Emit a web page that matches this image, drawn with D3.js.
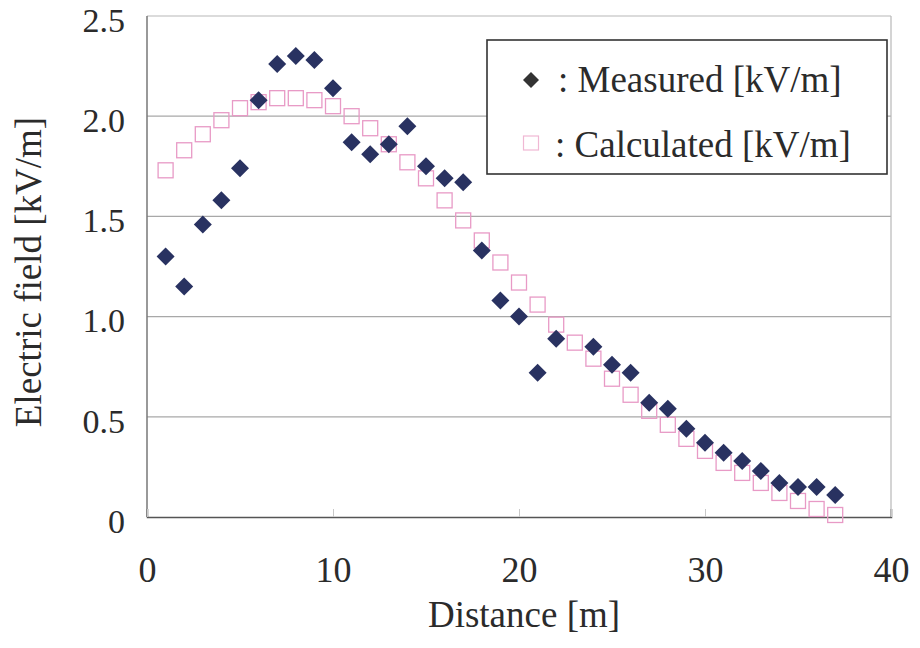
<!DOCTYPE html>
<html>
<head>
<meta charset="utf-8">
<script src="https://cdn.jsdelivr.net/npm/d3@7"></script>
<style>
  html, body { margin: 0; padding: 0; background: #fff; }
  svg { display: block; }
  svg text { font-family: "Liberation Serif", "Times New Roman", Tinos, "DejaVu Serif", serif !important; fill: #2b2b2b; }
</style>
</head>
<body>
<svg id="chart" width="920" height="648" font-family="Liberation Serif, Times New Roman, serif"></svg>
<script>
// ---- data ----
const distances = [1,2,3,4,5,6,7,8,9,10,11,12,13,14,15,16,17,18,19,20,21,22,23,24,25,26,27,28,29,30,31,32,33,34,35,36,37];
const measured = [1.30,1.15,1.46,1.58,1.74,2.08,2.26,2.30,2.28,2.14,1.87,1.81,1.86,1.95,1.75,1.69,1.67,1.33,1.08,1.00,0.72,0.89,null,0.85,0.76,0.72,0.57,0.54,0.44,0.37,0.32,0.28,0.23,0.17,0.15,0.15,0.11];
const calculated = [1.73,1.83,1.91,1.98,2.04,2.07,2.09,2.09,2.08,2.05,2.00,1.94,1.86,1.77,1.69,1.58,1.48,1.38,1.27,1.17,1.06,0.96,0.87,0.79,0.69,0.61,0.53,0.46,0.39,0.33,0.27,0.22,0.17,0.12,0.08,0.04,0.01];
const xTicks = [0,10,20,30,40];
const yTicks = [0,0.5,1.0,1.5,2.0,2.5];
const yTickLabels = ["0","0.5","1.0","1.5","2.0","2.5"];
const legendLabels = [": Measured [kV/m]", ": Calculated [kV/m]"];
const xTitle = "Distance [m]";
const yTitle = "Electric field [kV/m]";

// ---- layout ----
const L = 147, R = 891, T = 16, B = 517;
const FONT = "'Liberation Serif', 'Times New Roman', serif";
const svg = d3.select("#chart");
const x = d3.scaleLinear().domain([0,40]).range([L,R]);
const y = d3.scaleLinear().domain([0,2.5]).range([B,T]);

// gridlines
svg.append("g").selectAll("line").data(yTicks.filter(v => v > 0 && v < 2.5)).join("line")
  .attr("x1", L).attr("x2", R).attr("y1", d => y(d)).attr("y2", d => y(d))
  .attr("stroke", "#a8a8a8").attr("stroke-width", 1.2);

// frame: top & right light, left & bottom darker
svg.append("line").attr("x1", L).attr("x2", R).attr("y1", T).attr("y2", T).attr("stroke", "#b8b8b8").attr("stroke-width", 1.2);
svg.append("line").attr("x1", R).attr("x2", R).attr("y1", T).attr("y2", B).attr("stroke", "#b8b8b8").attr("stroke-width", 1.2);
svg.append("line").attr("x1", L).attr("x2", L).attr("y1", T).attr("y2", B).attr("stroke", "#777").attr("stroke-width", 1.5);

// x axis
const xAxis = svg.append("g").attr("transform", `translate(0,${B})`)
  .call(d3.axisBottom(x).tickValues(xTicks).tickSize(-8).tickFormat(d3.format("d")));
xAxis.attr("font-family", null).attr("font-size", null);
xAxis.select(".domain").attr("stroke", "#555").attr("stroke-width", 1.5);
xAxis.selectAll(".tick line").attr("stroke", "#c8c8c8").attr("stroke-width", 1);
xAxis.selectAll(".tick text").attr("y", 65).attr("dy", null)
  .style("font-size", "36px").style("font-family", FONT).attr("fill", "#2b2b2b");

// y axis
const yAxis = svg.append("g").attr("transform", `translate(${L},0)`)
  .call(d3.axisLeft(y).tickValues(yTicks).tickSize(0).tickFormat((d,i) => yTickLabels[i]));
yAxis.attr("font-family", null).attr("font-size", null);
yAxis.select(".domain").remove();
yAxis.selectAll(".tick text").attr("x", -22).attr("dy", "0.45em")
  .style("font-size", "34px").style("font-family", FONT).attr("fill", "#2b2b2b");

// axis titles
svg.append("text").attr("x", (L+R)/2 + 5).attr("y", 627).attr("text-anchor", "middle")
  .style("font-size", "37px").style("font-family", FONT).text(xTitle);
svg.append("text").attr("transform", `translate(41,272) rotate(-90)`).attr("text-anchor", "middle")
  .style("font-size", "37px").style("font-family", FONT).text(yTitle);

// markers
const diamond = s => `M0,${-s}L${s},0L0,${s}L${-s},0Z`;
const pts = distances.map((d,i) => ({d, m: measured[i], c: calculated[i]}));

svg.append("g").selectAll("rect").data(pts.filter(p => p.c != null)).join("rect")
  .attr("x", p => x(p.d) - 7.5).attr("y", p => y(p.c) - 7.5)
  .attr("width", 15).attr("height", 15)
  .attr("fill", "none").attr("stroke", "#e89ac6").attr("stroke-width", 1.3);

svg.append("g").selectAll("path").data(pts.filter(p => p.m != null)).join("path")
  .attr("transform", p => `translate(${x(p.d)},${y(p.m)})`)
  .attr("d", diamond(9)).attr("fill", "#293261");

// legend
const lg = svg.append("g");
lg.append("rect").attr("x", 487).attr("y", 40).attr("width", 400).attr("height", 134)
  .attr("fill", "#fff").attr("stroke", "#333").attr("stroke-width", 1.6);
lg.append("path").attr("transform", "translate(531,80)").attr("d", diamond(8)).attr("fill", "#333");
lg.append("rect").attr("x", 523.5).attr("y", 136).attr("width", 15).attr("height", 14)
  .attr("fill", "none").attr("stroke", "#f0b8d4").attr("stroke-width", 1.2);
lg.append("text").attr("x", 558).attr("y", 92).style("font-size", "37px").style("font-family", FONT).text(legendLabels[0]);
lg.append("text").attr("x", 555).attr("y", 157).style("font-size", "37px").style("font-family", FONT).text(legendLabels[1]);
</script>
</body>
</html>
